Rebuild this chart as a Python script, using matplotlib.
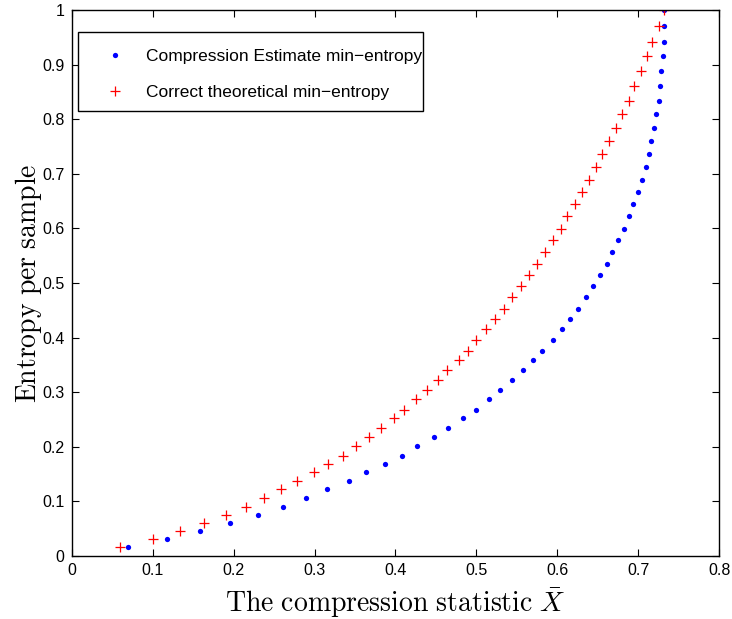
import matplotlib

matplotlib.use("Agg")
import matplotlib.pyplot as plt
from matplotlib.patches import Rectangle

# entropy levels, shared by both series
entropy = [
    0.016, 0.031, 0.046, 0.060, 0.075, 0.090, 0.106, 0.122, 0.138, 0.153,
    0.168, 0.184, 0.201, 0.218, 0.235, 0.252, 0.268, 0.287, 0.304, 0.322,
    0.340, 0.359, 0.376, 0.395, 0.415, 0.434, 0.453, 0.474, 0.494, 0.515,
    0.534, 0.556, 0.578, 0.599, 0.622, 0.644, 0.666, 0.688, 0.712, 0.737,
    0.760, 0.784, 0.809, 0.834, 0.861, 0.888, 0.916, 0.942, 0.971, 1.000,
]

# compression statistic for the estimate
x_estimate = [
    0.070, 0.118, 0.159, 0.196, 0.230, 0.261, 0.290, 0.316, 0.342, 0.364,
    0.387, 0.408, 0.427, 0.447, 0.465, 0.483, 0.499, 0.515, 0.529, 0.544,
    0.557, 0.570, 0.581, 0.594, 0.605, 0.615, 0.625, 0.635, 0.644, 0.653,
    0.661, 0.667, 0.675, 0.682, 0.688, 0.693, 0.699, 0.704, 0.709, 0.713,
    0.715, 0.719, 0.722, 0.725, 0.727, 0.728, 0.730, 0.732, 0.732, 0.732,
]

# compression statistic for the theoretical value
x_theory = [
    0.060, 0.100, 0.134, 0.164, 0.191, 0.215, 0.238, 0.259, 0.279, 0.299,
    0.317, 0.335, 0.351, 0.367, 0.382, 0.398, 0.411, 0.425, 0.439, 0.452,
    0.464, 0.478, 0.489, 0.500, 0.512, 0.523, 0.534, 0.544, 0.555, 0.565,
    0.575, 0.585, 0.594, 0.604, 0.612, 0.622, 0.630, 0.639, 0.648, 0.655,
    0.664, 0.672, 0.680, 0.688, 0.694, 0.703, 0.711, 0.717, 0.725, 0.732,
]

x_ticks = [0, 0.1, 0.2, 0.3, 0.4, 0.5, 0.6, 0.7, 0.8]
x_labels = ["0", "0.1", "0.2", "0.3", "0.4", "0.5", "0.6", "0.7", "0.8"]
y_ticks = [0, 0.1, 0.2, 0.3, 0.4, 0.5, 0.6, 0.7, 0.8, 0.9, 1]
y_labels = ["0", "0.1", "0.2", "0.3", "0.4", "0.5", "0.6", "0.7", "0.8", "0.9", "1"]


def main():
    plt.rcParams["font.family"] = ["Liberation Sans", "DejaVu Sans"]
    plt.rcParams["mathtext.fontset"] = "cm"

    fig = plt.figure(figsize=(7.32, 6.19), dpi=100)
    ax = fig.add_axes((0.0977, 0.1018, 0.8852, 0.882))

    ax.plot(x_estimate, entropy, ls="", marker="o", ms=3.8, mec="none",
            color="#0000ff", label="Compression Estimate min\u2212entropy")
    ax.plot(x_theory, entropy, ls="", marker="+", ms=7.5, mew=0.9,
            color="#ff0000", label="Correct theoretical min\u2212entropy")

    ax.set_xlim(0, 0.8)
    ax.set_ylim(0, 1)
    ax.set_xticks(x_ticks)
    ax.set_xticklabels(x_labels)
    ax.set_yticks(y_ticks)
    ax.set_yticklabels(y_labels)
    ax.tick_params(direction="in", top=True, right=True, labelsize=11.5,
                   length=5, width=0.8, pad=5)
    for sp in ax.spines.values():
        sp.set_linewidth(1.0)

    ax.set_xlabel(r"$\mathrm{The\ compression\ statistic\ }\bar{X}$",
                  fontsize=20, labelpad=6)
    ax.set_ylabel(r"$\mathrm{Entropy\ per\ sample}$", fontsize=20, labelpad=-1.5)

    # legend box drawn by hand, text runs right up to its edge
    ax.add_patch(Rectangle((0.010, 0.815), 0.5325, 0.145, transform=ax.transAxes,
                           fc="white", ec="k", lw=1.0, zorder=4))
    leg = ax.legend(loc="upper left", bbox_to_anchor=(0.040, 0.928),
                    borderaxespad=0, borderpad=0, frameon=False,
                    fontsize=12.5, handletextpad=0.78, labelspacing=1.15,
                    handlelength=2.0)
    leg.set_zorder(5)

    fig.savefig("out.png", dpi=100)


if __name__ == "__main__":
    main()
